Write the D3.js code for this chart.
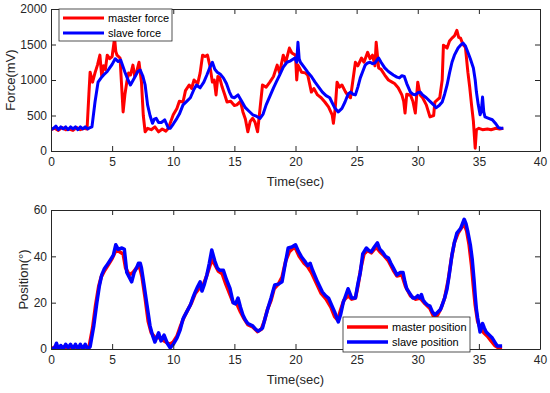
<!DOCTYPE html>
<html>
<head>
<meta charset="utf-8">
<script src="https://cdn.jsdelivr.net/npm/d3@7/dist/d3.min.js"></script>
<style>
  body { margin: 0; background: #fff; }
  svg { display: block; font-family: "Liberation Sans", Arial, sans-serif; }
</style>
</head>
<body>
<svg id="chart" width="550" height="393"></svg>
<script>
// x ticks shared by both panels
const timeTicks = [0, 5, 10, 15, 20, 25, 30, 35, 40];
const forceTicks = [0, 500, 1000, 1500, 2000];
const positionTicks = [0, 20, 40, 60];

// [time (sec), force (mV)]
const masterForce = [
  [0,300],[0.3,320],[0.6,290],[0.9,330],[1.2,300],[1.5,310],[1.8,290],[2.1,330],[2.4,300],[2.7,320],[2.95,310],
  [3.1,800],[3.2,1110],[3.4,970],[3.6,1100],[3.8,1210],[4.0,1350],[4.15,1050],[4.3,1200],[4.45,1150],[4.6,1350],
  [4.8,1300],[5.0,1330],[5.2,1590],[5.3,1400],[5.4,1350],[5.65,1310],[5.75,1000],[5.9,550],[6.05,800],[6.2,970],
  [6.35,1100],[6.5,1070],[6.7,1210],[6.85,1050],[7.0,1110],[7.2,1250],[7.4,970],[7.55,500],[7.7,270],[7.9,320],
  [8.2,300],[8.5,340],[8.8,270],[9.1,310],[9.4,280],[9.6,320],[10.0,510],[10.3,600],[10.5,700],[10.8,690],
  [11.0,850],[11.3,930],[11.5,880],[11.7,1000],[12.0,950],[12.2,1100],[12.4,1350],[12.6,1330],[12.8,1350],
  [13.0,1200],[13.2,970],[13.35,1000],[13.5,790],[13.65,1050],[13.8,1030],[14.0,900],[14.2,800],[14.4,690],
  [14.7,700],[15.0,640],[15.2,650],[15.5,700],[15.7,550],[15.9,450],[16.1,270],[16.3,420],[16.5,460],[16.7,400],
  [16.9,270],[17.1,600],[17.3,930],[17.6,900],[17.9,970],[18.2,1050],[18.5,1210],[18.7,1100],[19.0,1350],
  [19.2,1250],[19.5,1450],[19.7,1380],[20.0,1350],[20.1,1000],[20.2,1210],[20.5,1110],[20.8,1100],[21.0,1070],
  [21.3,830],[21.5,880],[21.8,790],[22.1,750],[22.4,690],[22.7,620],[23.0,510],[23.1,390],[23.25,600],[23.4,970],
  [23.6,900],[23.8,930],[24.1,830],[24.3,780],[24.5,750],[24.7,1000],[24.9,1250],[25.1,1200],[25.4,1310],
  [25.6,1250],[25.9,1390],[26.1,1300],[26.3,1350],[26.5,1200],[26.6,1530],[26.8,1170],[27.0,1150],[27.3,1070],
  [27.6,1000],[27.9,970],[28.1,950],[28.4,890],[28.7,790],[28.85,700],[28.96,535],[29.1,800],[29.4,790],
  [29.6,700],[29.8,535],[30.0,970],[30.2,790],[30.4,750],[30.7,650],[31.0,480],[31.3,500],[31.4,690],[31.6,720],
  [31.8,750],[32.0,1000],[32.1,1490],[32.4,1450],[32.6,1550],[32.8,1590],[33.0,1620],[33.2,1700],[33.35,1600],
  [33.5,1590],[33.7,1500],[33.9,1460],[34.1,1110],[34.25,900],[34.4,650],[34.55,420],[34.7,40],[34.8,300],
  [35.0,320],[35.3,300],[35.7,310],[36.0,300],[36.4,320],[36.7,310],[37.0,320]
];

const slaveForce = [
  [0,300],[0.2,320],[0.4,350],[0.6,300],[0.8,340],[1.0,310],[1.2,340],[1.4,300],[1.6,340],[1.8,310],[2.0,340],
  [2.2,300],[2.4,340],[2.6,310],[2.8,340],[3.0,310],[3.2,330],[3.35,340],[3.6,690],[3.85,970],[4.1,1030],
  [4.3,1070],[4.6,1120],[4.8,1170],[5.0,1220],[5.25,1300],[5.5,1260],[5.7,1280],[6.05,1110],[6.3,1000],
  [6.5,930],[6.85,1040],[7.1,1120],[7.3,1140],[7.5,1060],[7.7,930],[7.9,650],[8.1,500],[8.3,390],[8.45,450],
  [8.6,460],[8.8,400],[9.0,400],[9.1,410],[9.3,440],[9.45,380],[9.6,320],[9.75,320],[10.0,380],[10.3,460],
  [10.5,520],[10.8,650],[11.1,700],[11.4,750],[11.7,870],[11.9,930],[12.2,890],[12.5,970],[12.75,1070],
  [13.0,1180],[13.2,1250],[13.4,1150],[13.6,1110],[13.85,1080],[14.1,1030],[14.35,950],[14.6,830],[14.8,760],
  [15.0,750],[15.3,790],[15.6,700],[15.9,610],[16.2,560],[16.5,510],[16.8,490],[17.1,460],[17.35,520],
  [17.6,650],[17.9,770],[18.2,890],[18.45,980],[18.7,1070],[19.0,1180],[19.3,1250],[19.6,1270],[19.95,1310],
  [20.1,1250],[20.2,1530],[20.3,1300],[20.4,1250],[20.7,1180],[21.0,1110],[21.3,1050],[21.6,970],[21.9,900],
  [22.2,830],[22.5,780],[22.8,750],[23.0,680],[23.2,610],[23.5,550],[23.8,600],[24.05,690],[24.3,800],
  [24.5,830],[24.7,800],[24.9,790],[25.1,900],[25.3,1030],[25.5,1120],[25.7,1210],[25.9,1240],[26.1,1250],
  [26.3,1230],[26.5,1240],[26.8,1310],[27.0,1250],[27.3,1170],[27.6,1120],[28.0,1070],[28.3,1040],[28.5,1030],
  [28.7,1060],[28.9,1050],[29.1,950],[29.4,830],[29.6,800],[29.8,790],[30.0,820],[30.2,830],[30.4,790],
  [30.7,750],[31.0,700],[31.3,650],[31.5,610],[31.75,640],[32.0,690],[32.2,800],[32.4,930],[32.6,1100],
  [32.8,1250],[33.0,1350],[33.3,1450],[33.5,1490],[33.7,1520],[33.9,1480],[34.1,1390],[34.3,1300],[34.55,1170],
  [34.7,1000],[34.8,830],[34.95,650],[35.1,510],[35.2,560],[35.3,760],[35.4,550],[35.5,480],[35.8,460],
  [36.1,440],[36.4,380],[36.6,330],[36.8,320],[37.0,320]
];

// [time (sec), position (deg)]
const masterPosition = [
  [0,0],[0.4,1],[0.7,0],[1.0,1],[1.3,0],[1.6,1],[1.9,0],[2.2,1],[2.5,0],[2.8,1],[3.1,0.5],[3.4,9],[3.65,19],
  [3.9,27],[4.1,31],[4.4,34],[4.7,36.5],[5.0,39],[5.3,42.5],[5.6,42],[5.9,41],[6.1,35],[6.4,32],[6.7,33],
  [7.0,35],[7.25,35.5],[7.45,31],[7.7,22],[7.95,12],[8.2,7],[8.5,5],[8.8,5],[9.1,4],[9.4,3],[9.7,2],[10.0,3],
  [10.3,5.5],[10.6,10],[10.9,14],[11.2,17],[11.5,20],[11.8,24],[12.1,26],[12.4,27],[12.7,31],[13.0,36],
  [13.2,38.5],[13.45,36],[13.7,33.5],[14.0,32.5],[14.3,28],[14.6,24],[14.9,20],[15.2,19.5],[15.5,16],[15.8,13],
  [16.1,10.5],[16.5,9.5],[16.9,7.5],[17.2,8.5],[17.45,12],[17.7,17],[18.0,21],[18.25,26],[18.6,28],[18.9,31],
  [19.2,38],[19.5,42],[19.8,43.5],[20.0,43.5],[20.3,40],[20.7,37],[21.0,35.5],[21.3,33],[21.7,28.5],[22.1,24],
  [22.5,21.5],[22.9,18],[23.2,14],[23.45,12.5],[23.7,17],[23.95,21],[24.3,23],[24.6,21.5],[24.9,22],[25.1,27],
  [25.35,35],[25.6,41],[25.9,42.5],[26.2,41.5],[26.6,44],[26.9,42],[27.2,40.5],[27.6,38],[28.0,34],[28.3,31.5],
  [28.7,32],[29.0,27],[29.4,23],[29.8,21.5],[30.2,22],[30.6,19.5],[31.0,17.5],[31.3,14],[31.6,14.5],[31.9,17.5],
  [32.2,22],[32.5,30],[32.75,39],[33.0,46],[33.3,50],[33.6,52.5],[33.8,54],[34.0,51],[34.2,45],[34.4,36],
  [34.55,27],[34.7,19],[34.9,12],[35.1,9],[35.4,7],[35.7,5.5],[36.0,3.5],[36.3,1.5],[36.6,0.5],[36.9,0.5]
];

const slavePosition = [
  [0,0],[0.3,0.5],[0.45,2.5],[0.6,0],[0.8,1.5],[1.0,0],[1.2,2],[1.4,0.5],[1.6,2],[1.8,0],[2.0,2],[2.2,0],[2.4,2],
  [2.6,0],[2.8,2],[3.0,0],[3.2,1],[3.5,10],[3.75,20],[3.95,27],[4.15,32],[4.35,34.5],[4.55,36],[4.8,38],
  [5.1,40.5],[5.3,45],[5.5,43],[5.8,43.6],[6.0,43],[6.2,33],[6.4,31],[6.6,29],[6.8,33],[7.0,35],[7.15,37],
  [7.3,37],[7.4,35],[7.6,28],[7.85,19],[8.1,10],[8.3,6],[8.5,3],[8.65,5],[8.8,7],[9.0,3.5],[9.25,6],[9.5,2.6],
  [9.75,0.5],[10.0,2],[10.3,4.7],[10.55,8],[10.8,13],[11.1,16],[11.4,19],[11.6,22],[11.8,24.6],[12.0,27],
  [12.2,29],[12.35,25],[12.55,28],[12.75,32],[12.95,37],[13.15,42.7],[13.4,38],[13.6,35],[13.8,34],[14.1,34],
  [14.35,30],[14.65,26],[14.9,20],[15.1,19.5],[15.3,22],[15.5,18],[15.7,14.7],[15.9,12.5],[16.1,11],[16.5,10],
  [16.75,8.5],[16.95,7.7],[17.3,9],[17.5,13],[17.75,17.7],[18.0,22],[18.3,27.6],[18.6,28],[18.9,29],[19.1,35],
  [19.4,43.6],[19.7,44],[20.0,45],[20.25,42],[20.5,39.7],[20.75,38],[21.0,36],[21.2,37],[21.4,34],[21.8,29],
  [22.2,24.6],[22.45,23],[22.7,22],[22.95,19],[23.2,16],[23.5,11.7],[23.7,15],[23.9,20],[24.1,23],[24.3,26],
  [24.45,24],[24.6,22],[24.9,22],[25.1,28],[25.3,33],[25.5,41],[25.8,43.6],[26.0,42.5],[26.2,42],[26.45,44],
  [26.7,45.8],[26.9,43],[27.1,42],[27.35,40],[27.6,39.3],[27.8,37],[28.0,35],[28.3,32],[28.55,33],[28.8,33],
  [28.95,29],[29.1,26],[29.35,24],[29.6,22],[29.8,22],[30.0,23],[30.15,22],[30.3,23.5],[30.45,21],[30.6,20],
  [30.8,19],[31.0,18.5],[31.2,16],[31.4,14.7],[31.65,16],[31.85,17],[32.0,19],[32.2,22],[32.4,26],[32.6,33],
  [32.8,40.6],[33.0,46],[33.2,50],[33.5,52],[33.65,54],[33.8,56],[33.95,54],[34.1,50.5],[34.3,45],[34.45,39],
  [34.6,30],[34.7,23],[34.8,17],[34.9,13.4],[35.1,7.3],[35.3,11],[35.45,9],[35.6,7.3],[35.85,6],[36.1,4.7],
  [36.3,3],[36.5,1.3],[36.9,1.3]
];

const svg = d3.select("#chart");
const axisColor = "#262626";
const left = 51, right = 540;

function drawPanel(opts) {
  const x = d3.scaleLinear().domain([0, 40]).range([left, right]);
  const y = d3.scaleLinear().domain(opts.yDomain).range([opts.bottom, opts.top]);
  const g = svg.append("g");

  const clipId = "clip" + opts.id;
  g.append("clipPath").attr("id", clipId)
    .append("rect")
      .attr("x", left).attr("y", opts.top)
      .attr("width", right - left).attr("height", opts.bottom - opts.top);

  const line = d3.line().x(d => x(d[0])).y(d => y(d[1]));
  const plot = g.append("g").attr("clip-path", `url(#${clipId})`);
  opts.series.forEach(s => {
    plot.append("path")
        .datum(s.data)
        .attr("fill", "none")
        .attr("stroke", s.color)
        .attr("stroke-width", opts.lineWidth)
        .attr("stroke-linejoin", "round")
        .attr("d", line);
  });

  // axes with inward ticks on all four sides (box on)
  const tickLen = 5;
  const fmt = d3.format("d");
  const mk = (axis, ticks) => axis.tickValues(ticks).tickSizeInner(-tickLen).tickSizeOuter(0).tickPadding(6).tickFormat(fmt);
  const styleAxis = sel => {
    sel.select(".domain").attr("stroke", axisColor);
    sel.selectAll(".tick line").attr("stroke", axisColor);
    sel.selectAll("text").attr("fill", "#262626").attr("font-size", "12px")
      .attr("font-family", "'Liberation Sans', Arial, sans-serif");
  };

  g.append("g").attr("transform", `translate(0,${opts.bottom})`)
    .call(mk(d3.axisBottom(x), timeTicks)).call(styleAxis);
  g.append("g").attr("transform", `translate(0,${opts.top})`)
    .call(mk(d3.axisTop(x), timeTicks).tickFormat("")).call(styleAxis);
  g.append("g").attr("transform", `translate(${left},0)`)
    .call(mk(d3.axisLeft(y), opts.yTicks).tickPadding(4)).call(styleAxis);
  g.append("g").attr("transform", `translate(${right},0)`)
    .call(mk(d3.axisRight(y), opts.yTicks).tickFormat("")).call(styleAxis);

  g.append("text")
      .attr("x", (left + right) / 2)
      .attr("y", opts.bottom + 35)
      .attr("text-anchor", "middle")
      .attr("font-size", "13px")
      .attr("fill", "#262626")
      .text("Time(sec)");

  g.append("text")
      .attr("transform", `translate(${opts.yLabelX},${(opts.top + opts.bottom) / 2}) rotate(-90)`)
      .attr("text-anchor", "middle")
      .attr("dy", "0.35em")
      .attr("font-size", "13px")
      .attr("fill", "#262626")
      .text(opts.yLabel);

  // legend
  const lg = opts.legend;
  g.append("rect")
      .attr("x", lg.x).attr("y", lg.y)
      .attr("width", lg.w).attr("height", lg.h)
      .attr("fill", "#fff")
      .attr("stroke", axisColor)
      .attr("stroke-width", 0.8);
  opts.series.forEach((s, i) => {
    const cy = lg.y + lg.rowY[i];
    g.append("line")
        .attr("x1", lg.x + 4).attr("x2", lg.x + 45)
        .attr("y1", cy).attr("y2", cy)
        .attr("stroke", s.color)
        .attr("stroke-width", opts.lineWidth);
    g.append("text")
        .attr("x", lg.x + 49).attr("y", cy)
        .attr("dy", "0.35em")
        .attr("font-size", "11px")
        .attr("fill", "#000")
        .text(s.name);
  });
}

drawPanel({
  id: 1, top: 9, bottom: 151,
  yDomain: [0, 2000], yTicks: forceTicks,
  yLabel: "Force(mV)", yLabelX: 10,
  lineWidth: 3,
  series: [
    { name: "master force", color: "#ff0000", data: masterForce },
    { name: "slave force", color: "#0000ff", data: slaveForce }
  ],
  legend: { x: 59, y: 9, w: 113, h: 32, rowY: [9, 24] }
});

drawPanel({
  id: 2, top: 210, bottom: 349,
  yDomain: [0, 60], yTicks: positionTicks,
  yLabel: "Position(°)", yLabelX: 23,
  lineWidth: 3.5,
  series: [
    { name: "master position", color: "#ff0000", data: masterPosition },
    { name: "slave position", color: "#0000ff", data: slavePosition }
  ],
  legend: { x: 343, y: 317, w: 127, h: 35, rowY: [10, 25] }
});
</script>
</body>
</html>
